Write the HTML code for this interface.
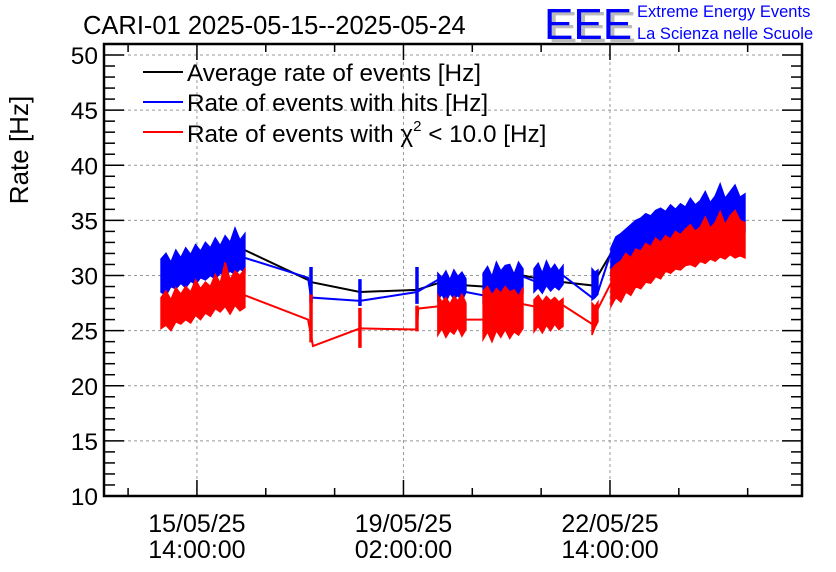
<!DOCTYPE html>
<html><head><meta charset="utf-8">
<style>
body{margin:0;background:#fff;}
svg{display:block;font-family:"Liberation Sans",sans-serif;}
</style></head>
<body>
<svg id="chart" width="836" height="572" viewBox="0 0 836 572">
  <rect x="0" y="0" width="836" height="572" fill="#fff"/>
  <text x="83" y="34" font-size="25.5">CARI-01 2025-05-15--2025-05-24</text>
  <g>
    <text x="548" y="42" font-size="44" fill="#bbb" letter-spacing="0">EEE</text>
    <text x="544" y="39" font-size="44" fill="#00f" letter-spacing="0">EEE</text>
    <text x="637" y="17" font-size="16.5" fill="#00f">Extreme Energy Events</text>
    <text x="637" y="39" font-size="16.5" fill="#00f">La Scienza nelle Scuole</text>
  </g>
  <text transform="translate(28,150) rotate(-90)" text-anchor="middle" font-size="26">Rate [Hz]</text>
  <g id="grid"></g>
  <g id="series"></g>
  <g id="axes"></g>
  <g>
    <line x1="143" y1="72" x2="183" y2="72" stroke="#000" stroke-width="2"/>
    <text x="187" y="81" font-size="24.3">Average rate of events [Hz]</text>
    <line x1="143" y1="102" x2="183" y2="102" stroke="#00f" stroke-width="2"/>
    <text x="187" y="111" font-size="24.3">Rate of events with hits [Hz]</text>
    <line x1="143" y1="132" x2="183" y2="132" stroke="#f00" stroke-width="2"/>
    <text x="187" y="142" font-size="24.3">Rate of events with χ<tspan font-size="15" dy="-11">2</tspan><tspan dy="11"> &lt; 10.0 [Hz]</tspan></text>
  </g>
</svg>
<script>
// time in hours from 15/05/25 00:00
const xTickHours = [14, 98, 182];
const xTickDates = ["15/05/25", "19/05/25", "22/05/25"];
const xTickTimes = ["14:00:00", "02:00:00", "14:00:00"];
const yTicks = [10, 15, 20, 25, 30, 35, 40, 45, 50];

const blackT = [33.5, 59.2, 60.4, 80.3, 103.5, 112, 123.4, 130.4, 146.6, 151.1, 162.9, 174.7, 182.4];
const blackV = [32.3, 29.6, 29.4, 28.5, 28.7, 29.3, 29.1, 29.0, 30.0, 29.8, 29.4, 29.1, 32.0];
const blueT = [33.5, 59.2, 60.4, 80.3, 103.5, 112, 123.4, 130.4, 146.6, 151.1, 162.9, 174.7, 177.1, 182.4];
const blueV = [31.6, 29.8, 28.0, 27.7, 28.5, 29.6, 28.5, 28.2, 29.9, 29.5, 30.0, 28.0, 28.5, 32.1];
const redT = [33.5, 59.2, 61.2, 80.3, 103.5, 104, 112, 123.4, 130.4, 146.6, 151.1, 162.9, 174.7, 177.1, 182.4];
const redV = [28.2, 26.0, 23.6, 25.2, 25.1, 27.0, 27.2, 26.0, 26.0, 27.4, 27.2, 27.3, 25.6, 27.0, 29.3];

// noisy blocks: start/end hours
const blockStart = [-0.6, 60.0, 79.9, 103.1, 112, 130.4, 151.1, 174.7, 182.4];
const blockEnd = [33.5, 60.8, 80.7, 103.9, 123.4, 146.6, 162.9, 177.1, 236.9];
const blueHi = [
 [31.5,32.0,31.2,32.3,31.6,32.5,31.9,32.8,32.2,33.0,32.5,33.4,32.7,33.6,33.0,34.3,33.2,33.8],
 [30.7,30.7],[29.6,29.6],[30.7,30.7],
 [30.2,29.8,30.4,29.6,30.5,29.9,30.3,29.7],
 [30.2,30.8,29.9,31.2,30.4,30.9,31.0,30.1,31.2,30.6],
 [30.6,31.1,30.2,31.3,30.5,31.0,30.4,30.9],
 [30.6,30.3,30.5],
 [32.5,33.5,33.8,34.2,34.6,35.0,35.2,35.6,35.4,35.9,36.1,35.8,36.4,36.0,36.5,36.2,37.0,36.4,36.8,37.6,36.6,37.2,38.3,37.0,37.6,38.2,37.1,37.4]
];
const blueLo = [
 [28.5,28.2,29.0,28.8,29.3,28.9,29.5,29.2,29.8,29.6,30.0,29.7,30.2,30.0,30.4,30.1,30.6,30.3],
 [27.6,27.6],[27.3,27.3],[27.5,27.5],
 [27.8,28.3,27.6,28.4,27.9,28.2,27.7,28.5],
 [27.6,28.2,27.5,28.4,27.8,28.3,27.7,28.5,28.0,28.4],
 [28.5,28.9,28.4,29.1,28.6,29.0,28.7,29.2],
 [27.8,28.0,28.3],
 [30.0,30.6,31.0,30.8,31.5,31.3,31.9,31.7,32.3,32.0,32.6,32.4,32.9,32.7,33.2,33.0,33.4,33.2,33.6,33.4,33.8,33.5,34.0,33.7,34.1,33.9,34.2,34.0]
];
const redHi = [
 [28.0,28.6,27.8,28.9,28.3,29.0,28.5,29.6,28.8,29.4,29.0,30.1,29.3,31.2,29.6,30.4,30.0,30.6],
 [28.2,28.2],[27.0,27.0],[27.2,27.2],
 [28.2,27.6,28.0,27.4,28.1,27.7,28.3,27.5],
 [28.6,29.0,28.2,28.8,28.4,29.0,28.5,28.7,28.1,28.9],
 [27.8,28.2,27.6,28.1,27.7,28.0,27.6,27.9],
 [27.5,27.2,27.6],
 [30.5,31.0,31.3,32.0,31.6,32.4,32.2,32.9,32.6,33.4,33.0,33.6,33.3,34.0,33.7,34.2,34.6,34.0,34.4,35.3,34.3,34.8,35.8,34.6,35.4,35.9,35.0,34.8]
];
const redLo = [
 [25.2,25.5,25.0,25.8,25.6,26.0,25.7,26.4,26.0,26.6,26.3,27.0,26.7,27.2,26.5,27.3,26.8,27.1],
 [24.0,24.0],[23.5,23.5],[25.0,25.0],
 [24.6,25.2,24.4,25.0,24.7,25.3,24.5,25.1],
 [24.2,24.9,24.0,25.0,24.4,25.1,24.3,24.9,24.6,25.2],
 [24.9,25.4,24.8,25.5,25.0,25.6,25.1,25.4],
 [24.6,25.3,25.8],
 [27.2,28.0,27.6,28.5,28.2,29.0,28.8,29.4,29.3,29.9,29.7,30.4,30.2,30.6,30.5,30.9,31.0,30.8,31.3,31.1,31.5,31.3,31.7,31.5,31.9,31.6,31.8,31.6]
];

const L = 104, R = 802, T = 44, B = 496;
const tMin = -23.8, tMax = 260.1;
const vMin = 10, vMax = 51;
function xs(t){ return L + (t - tMin) / (tMax - tMin) * (R - L); }
function ys(v){ return B - (v - vMin) * 11.025; }
const NS = "http://www.w3.org/2000/svg";
function mk(tag, attrs, parent){
  const e = document.createElementNS(NS, tag);
  for (const k in attrs) e.setAttribute(k, attrs[k]);
  parent.appendChild(e); return e;
}
const grid = document.getElementById('grid');
const axes = document.getElementById('axes');
const series = document.getElementById('series');

yTicks.forEach(v => {
  if (v === 10) return;
  const g = mk('line', {x1:L, x2:R, y1:ys(v), y2:ys(v), stroke:'#999', 'stroke-dasharray':'3,3', 'stroke-width':1}, grid);
  
  
});
xTickHours.forEach(t => {
  const g = mk('line', {x1:xs(t), x2:xs(t), y1:T, y2:B, stroke:'#999', 'stroke-dasharray':'3,3', 'stroke-width':1}, grid);
  
  
});

function poly(ts, vs, color, name){
  const p = mk('polyline', {points: ts.map((t,i)=>xs(t)+','+ys(vs[i])).join(' '), fill:'none', stroke:color, 'stroke-width':2}, series);
  
  
}
function bands(hi, lo, color, name){
  blockStart.forEach((t0, b) => {
    const n = hi[b].length, t1 = blockEnd[b];
    const up = hi[b].map((v,i)=>xs(t0 + (t1-t0)*i/(n-1))+','+ys(v));
    const dn = lo[b].map((v,i)=>xs(t0 + (t1-t0)*i/(n-1))+','+ys(v)).reverse();
    const p = mk('polygon', {points: up.concat(dn).join(' '), fill:color, stroke:color, 'stroke-width':1.5, 'stroke-linejoin':'miter'}, series);
    
    
  });
}
poly(blackT, blackV, '#000', 'average-rate-line');
poly(blueT, blueV, '#00f', 'hits-rate-line');
bands(blueHi, blueLo, '#00f', 'hits-rate-band');
poly(redT, redV, '#f00', 'chi2-rate-line');
bands(redHi, redLo, '#f00', 'chi2-rate-band');

const fr = mk('rect', {x:L, y:T, width:R-L, height:B-T, fill:'none', stroke:'#000', 'stroke-width':2.5}, axes);


for (let v = 10; v <= 51; v++) {
  const major = v % 5 === 0, len = major ? 20 : 11;
  mk('line', {x1:L, x2:L+len, y1:ys(v), y2:ys(v), stroke:'#000', 'stroke-width':1.5}, axes);
  mk('line', {x1:R, x2:R-len, y1:ys(v), y2:ys(v), stroke:'#000', 'stroke-width':1.5}, axes);
}
yTicks.forEach(v => {
  const tx = mk('text', {x:L-6, y:ys(v)+9, 'text-anchor':'end', 'font-size':24.5}, axes);
  tx.textContent = v;
  
  
});
for (let t = 14 - 28; t <= tMax; t += 28) {
  if (t < tMin) continue;
  const major = ((t - 14) % 84) === 0, len = major ? 16 : 8;
  mk('line', {x1:xs(t), x2:xs(t), y1:B, y2:B-len, stroke:'#000', 'stroke-width':1.5}, axes);
  mk('line', {x1:xs(t), x2:xs(t), y1:T, y2:T+len, stroke:'#000', 'stroke-width':1.5}, axes);
}
xTickHours.forEach((t,i) => {
  const a = mk('text', {x:xs(t), y:532, 'text-anchor':'middle', 'font-size':25}, axes);
  a.textContent = xTickDates[i];
  
  
  const b = mk('text', {x:xs(t), y:558, 'text-anchor':'middle', 'font-size':25}, axes);
  b.textContent = xTickTimes[i];
  
  
});
</script>
</body></html>
